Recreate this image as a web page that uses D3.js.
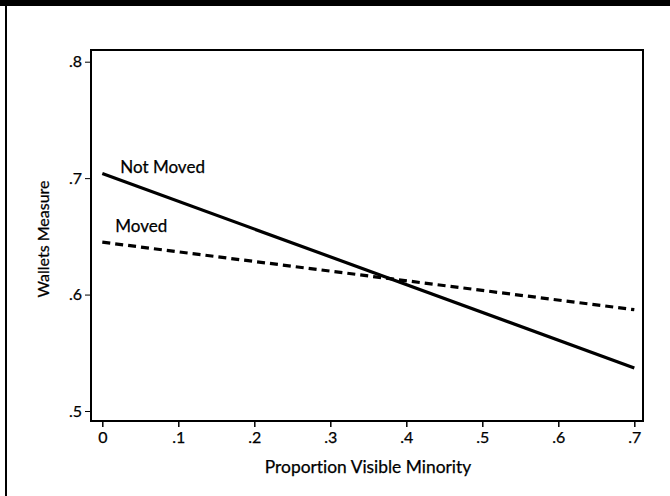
<!DOCTYPE html>
<html><head><meta charset="utf-8">
<script src="https://cdn.jsdelivr.net/npm/d3@7"></script>
<style>body{margin:0;background:#fff}svg{display:block}text{font-family:Lato,sans-serif;fill:#000;stroke:#000;stroke-width:0.25px;font-variant-ligatures:none;font-feature-settings:"liga" 0,"clig" 0}</style>
</head><body><svg id="c" width="670" height="496"></svg>
<script>
const xTicks = [0, 0.1, 0.2, 0.3, 0.4, 0.5, 0.6, 0.7];
const xTickLabels = ["0", ".1", ".2", ".3", ".4", ".5", ".6", ".7"];
const yTicks = [0.5, 0.6, 0.7, 0.8];
const yTickLabels = [".5", ".6", ".7", ".8"];
const seriesNames = ["Not Moved", "Moved"];
const xValues = [0, 0.7];
const notMoved = [0.704, 0.537];
const moved = [0.645, 0.587];
const xTitle = "Proportion Visible Minority";
const yTitle = "Wallets Measure";

const svg = d3.select("#c");
// scanned frame
svg.append("rect").attr("x",0).attr("y",0).attr("width",670).attr("height",6).attr("fill","#000");
svg.append("rect").attr("x",5).attr("y",6).attr("width",2).attr("height",490).attr("fill","#000");

const x = d3.scaleLinear().domain([0,0.7]).range([102.3,634.3]);
const y = d3.scaleLinear().domain([0.5,0.8]).range([411,61.7]);
const box = {l:91,r:643,t:50,b:421};

svg.append("rect").attr("x",box.l).attr("y",box.t).attr("width",box.r-box.l).attr("height",box.b-box.t)
  .attr("fill","none").attr("stroke","#000").attr("stroke-width",2);

const xAxis = svg.append("g").attr("transform",`translate(0,${box.b})`)
  .call(d3.axisBottom(x).tickValues(xTicks).tickFormat((d,i)=>xTickLabels[i]).tickSize(6).tickPadding(5));
xAxis.select(".domain").remove();
xAxis.selectAll("line").attr("stroke","#000").attr("stroke-width",1.5);
xAxis.selectAll("text").attr("font-size",16).attr("font-family","Lato,sans-serif").attr("fill","#000");

const yAxis = svg.append("g").attr("transform",`translate(${box.l},0)`)
  .call(d3.axisLeft(y).tickValues(yTicks).tickFormat((d,i)=>yTickLabels[i]).tickSize(6).tickPadding(3));
yAxis.select(".domain").remove();
yAxis.selectAll("line").attr("stroke","#000").attr("stroke-width",1);
yAxis.selectAll("text").attr("font-size",16).attr("font-family","Lato,sans-serif").attr("fill","#000");

const line = d3.line().x((d,i)=>x(xValues[i])).y(d=>y(d));
svg.append("path").datum(notMoved).attr("d",line).attr("fill","none").attr("stroke","#000").attr("stroke-width",3.2);
svg.append("path").datum(moved).attr("d",line).attr("fill","none").attr("stroke","#000").attr("stroke-width",3.2)
  .attr("stroke-dasharray","8,5");

svg.append("text").attr("x",x(0)+18).attr("y",y(notMoved[0])-0.5).attr("font-size",17).text(seriesNames[0]);
svg.append("text").attr("x",x(0)+13).attr("y",y(moved[0])-10).attr("font-size",17).text(seriesNames[1]);

svg.append("text").attr("x",368).attr("y",473).attr("text-anchor","middle").attr("font-size",17.4).text(xTitle);
svg.append("text").attr("transform","translate(49,239) rotate(-90)").attr("text-anchor","middle").attr("font-size",16).text(yTitle);
</script></body></html>
